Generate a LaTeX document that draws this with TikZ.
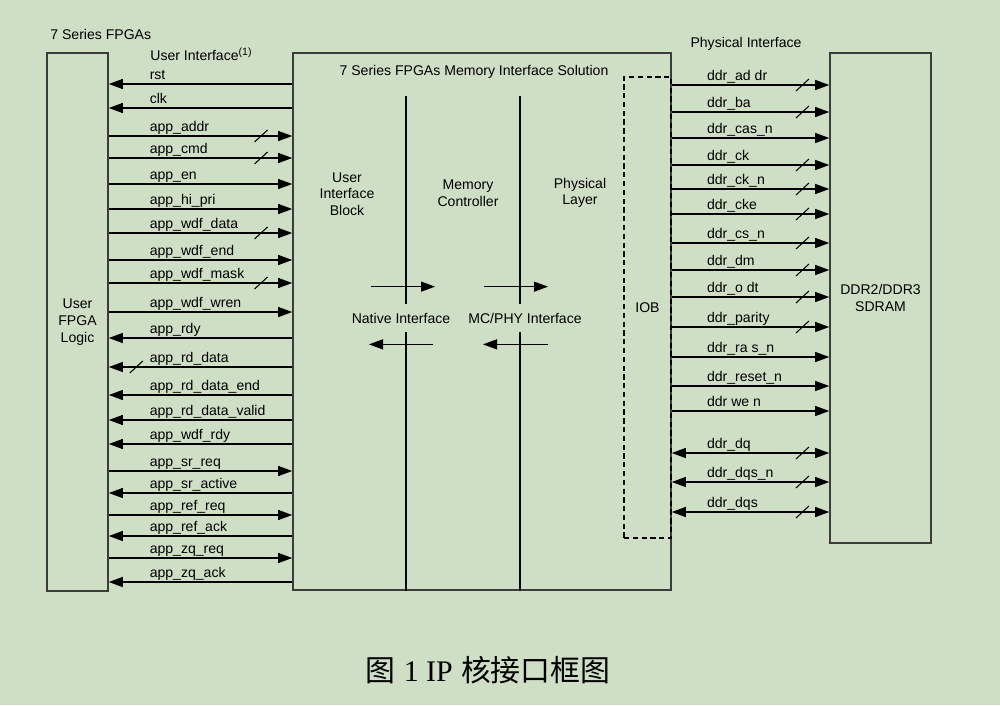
\documentclass[tikz,border=0pt]{standalone}
\usepackage{fontspec}
\setmainfont{Liberation Sans}
\newfontfamily\cjk{Noto Sans CJK SC}
\newfontfamily\capfont{Liberation Serif}
\usepackage{tikz}
\usetikzlibrary{arrows.meta, calc, decorations.markings, positioning}
\definecolor{bggreen}{RGB}{207,223,197}
\definecolor{edge}{RGB}{60,60,60}

\begin{document}
\begin{tikzpicture}[
    font=\footnotesize,
    box/.style={draw=edge, line width=0.9pt, rectangle, inner sep=0pt, align=center},
    iob/.style={draw=black, line width=0.8pt, dash pattern=on 3pt off 2pt, rectangle, inner sep=0pt},
    div/.style={line width=0.8pt},
    wr/.style={line width=0.7pt, -{Triangle[length=2.8mm, width=2mm]}},
    rd/.style={line width=0.7pt, {Triangle[length=2.8mm, width=2mm]}-},
    bi/.style={line width=0.7pt, {Triangle[length=2.8mm, width=2mm]}-{Triangle[length=2.8mm, width=2mm]}},
    bus/.style={postaction={decorate}, decoration={markings, mark=at position #1 with {\draw[-, line width=0.6pt] (-0.13,-0.12) -- (0.13,0.12);}}},
    bus/.default=0.83,
    lbl/.style={pos=0.22, anchor=base west, inner sep=0pt, yshift=0.1cm},
    txt/.style={align=center, inner sep=0pt}
]

    % --- Background ---
    \fill[bggreen] (0,0) rectangle (20,-14.1);
    \useasboundingbox (0,0) rectangle (20,-14.1);

    % --- Blocks ---
    \node[box, minimum width=1.22cm, minimum height=10.76cm] (ufl) at (1.55,-6.44) {User\\FPGA\\Logic};
    \node[box, minimum width=7.56cm, minimum height=10.74cm] (mis) at (9.64,-6.43) {};
    \node[iob, minimum width=0.94cm, minimum height=9.22cm] (iob) at (12.95,-6.15) {IOB};
    \node[box, minimum width=2.02cm, minimum height=9.8cm] (ddr) at (17.61,-5.96) {DDR2/DDR3\\SDRAM};

    % --- Titles ---
    \node[txt, anchor=west] (fam) at (1.0,-0.68) {7 Series FPGAs};
    \node[txt, anchor=west] (uif) at (3.0,-1.08) {User Interface\textsuperscript{(1)}};
    \node[txt] (phy) at (14.92,-0.88) {Physical Interface};
    \node[txt] (sol) at (9.48,-1.44) {7 Series FPGAs Memory Interface Solution};

    % --- Inner layers ---
    \node[txt] (uiblk) at (6.94,-3.88) {User\\Interface\\Block};
    \node[txt] (mctl) at (9.36,-3.86) {Memory\\Controller};
    \node[txt] (phyl) at (11.6,-3.86) {Physical\\Layer};
    \node[txt, minimum height=0.54cm] (nat) at (8.02,-6.36) {Native Interface};
    \node[txt, minimum height=0.54cm] (mcp) at (10.5,-6.36) {MC/PHY Interface};

    \coordinate (sep1) at (8.12,-1.92);
    \coordinate (sep2) at (10.4,-1.92);
    \draw[div] (sep1) -- (sep1 |- nat.north);
    \draw[div] (sep1 |- nat.south) -- (sep1 |- mis.south);
    \draw[div] (sep2) -- (sep2 |- mcp.north);
    \draw[div] (sep2 |- mcp.south) -- (sep2 |- mis.south);

    % interface arrows
    \draw[wr] ($(sep1 |- nat.north)+(-0.7,0.35)$) -- ++(1.28,0);
    \draw[wr] ($(sep1 |- nat.south)+(0.54,-0.25)$) -- ++(-1.28,0);
    \draw[wr] ($(sep2 |- mcp.north)+(-0.72,0.35)$) -- ++(1.28,0);
    \draw[wr] ($(sep2 |- mcp.south)+(0.56,-0.25)$) -- ++(-1.3,0);

    % --- User interface signals ---
    \draw[rd] (ufl.east |- 0,-1.68) -- (mis.west |- 0,-1.68) node[lbl] {rst};
    \draw[rd] (ufl.east |- 0,-2.16) -- (mis.west |- 0,-2.16) node[lbl] {clk};
    \draw[wr, bus] (ufl.east |- 0,-2.72) -- (mis.west |- 0,-2.72) node[lbl] {app\_addr};
    \draw[wr, bus] (ufl.east |- 0,-3.16) -- (mis.west |- 0,-3.16) node[lbl] {app\_cmd};
    \draw[wr] (ufl.east |- 0,-3.68) -- (mis.west |- 0,-3.68) node[lbl] {app\_en};
    \draw[wr] (ufl.east |- 0,-4.18) -- (mis.west |- 0,-4.18) node[lbl] {app\_hi\_pri};
    \draw[wr, bus] (ufl.east |- 0,-4.66) -- (mis.west |- 0,-4.66) node[lbl] {app\_wdf\_data};
    \draw[wr] (ufl.east |- 0,-5.20) -- (mis.west |- 0,-5.20) node[lbl] {app\_wdf\_end};
    \draw[wr, bus] (ufl.east |- 0,-5.66) -- (mis.west |- 0,-5.66) node[lbl] {app\_wdf\_mask};
    \draw[wr] (ufl.east |- 0,-6.24) -- (mis.west |- 0,-6.24) node[lbl] {app\_wdf\_wren};
    \draw[rd] (ufl.east |- 0,-6.76) -- (mis.west |- 0,-6.76) node[lbl] {app\_rdy};
    \draw[rd, bus=0.15] (ufl.east |- 0,-7.34) -- (mis.west |- 0,-7.34) node[lbl] {app\_rd\_data};
    \draw[rd] (ufl.east |- 0,-7.90) -- (mis.west |- 0,-7.90) node[lbl] {app\_rd\_data\_end};
    \draw[rd] (ufl.east |- 0,-8.40) -- (mis.west |- 0,-8.40) node[lbl] {app\_rd\_data\_valid};
    \draw[rd] (ufl.east |- 0,-8.88) -- (mis.west |- 0,-8.88) node[lbl] {app\_wdf\_rdy};
    \draw[wr] (ufl.east |- 0,-9.42) -- (mis.west |- 0,-9.42) node[lbl] {app\_sr\_req};
    \draw[rd] (ufl.east |- 0,-9.86) -- (mis.west |- 0,-9.86) node[lbl] {app\_sr\_active};
    \draw[wr] (ufl.east |- 0,-10.30) -- (mis.west |- 0,-10.30) node[lbl] {app\_ref\_req};
    \draw[rd] (ufl.east |- 0,-10.72) -- (mis.west |- 0,-10.72) node[lbl] {app\_ref\_ack};
    \draw[wr] (ufl.east |- 0,-11.16) -- (mis.west |- 0,-11.16) node[lbl] {app\_zq\_req};
    \draw[rd] (ufl.east |- 0,-11.64) -- (mis.west |- 0,-11.64) node[lbl] {app\_zq\_ack};

    % --- Physical interface signals ---
    \draw[wr, bus] (mis.east |- 0,-1.70) -- (ddr.west |- 0,-1.70) node[lbl] {ddr\_ad dr};
    \draw[wr, bus] (mis.east |- 0,-2.24) -- (ddr.west |- 0,-2.24) node[lbl] {ddr\_ba};
    \draw[wr] (mis.east |- 0,-2.76) -- (ddr.west |- 0,-2.76) node[lbl] {ddr\_cas\_n};
    \draw[wr, bus] (mis.east |- 0,-3.30) -- (ddr.west |- 0,-3.30) node[lbl] {ddr\_ck};
    \draw[wr, bus] (mis.east |- 0,-3.78) -- (ddr.west |- 0,-3.78) node[lbl] {ddr\_ck\_n};
    \draw[wr, bus] (mis.east |- 0,-4.28) -- (ddr.west |- 0,-4.28) node[lbl] {ddr\_cke};
    \draw[wr, bus] (mis.east |- 0,-4.86) -- (ddr.west |- 0,-4.86) node[lbl] {ddr\_cs\_n};
    \draw[wr, bus] (mis.east |- 0,-5.40) -- (ddr.west |- 0,-5.40) node[lbl] {ddr\_dm};
    \draw[wr, bus] (mis.east |- 0,-5.94) -- (ddr.west |- 0,-5.94) node[lbl] {ddr\_o dt};
    \draw[wr, bus] (mis.east |- 0,-6.54) -- (ddr.west |- 0,-6.54) node[lbl] {ddr\_parity};
    \draw[wr] (mis.east |- 0,-7.14) -- (ddr.west |- 0,-7.14) node[lbl] {ddr\_ra s\_n};
    \draw[wr] (mis.east |- 0,-7.72) -- (ddr.west |- 0,-7.72) node[lbl] {ddr\_reset\_n};
    \draw[wr] (mis.east |- 0,-8.22) -- (ddr.west |- 0,-8.22) node[lbl] {ddr we n};
    \draw[bi, bus] (mis.east |- 0,-9.06) -- (ddr.west |- 0,-9.06) node[lbl] {ddr\_dq};
    \draw[bi, bus] (mis.east |- 0,-9.64) -- (ddr.west |- 0,-9.64) node[lbl] {ddr\_dqs\_n};
    \draw[bi, bus] (mis.east |- 0,-10.24) -- (ddr.west |- 0,-10.24) node[lbl] {ddr\_dqs};

    % --- Caption ---
    \node[font={\fontsize{17}{20}\selectfont}] (cap) at (9.76,-13.4) {{\cjk 图} {\capfont 1 IP} {\cjk 核接口框图}};

\end{tikzpicture}
\end{document}
